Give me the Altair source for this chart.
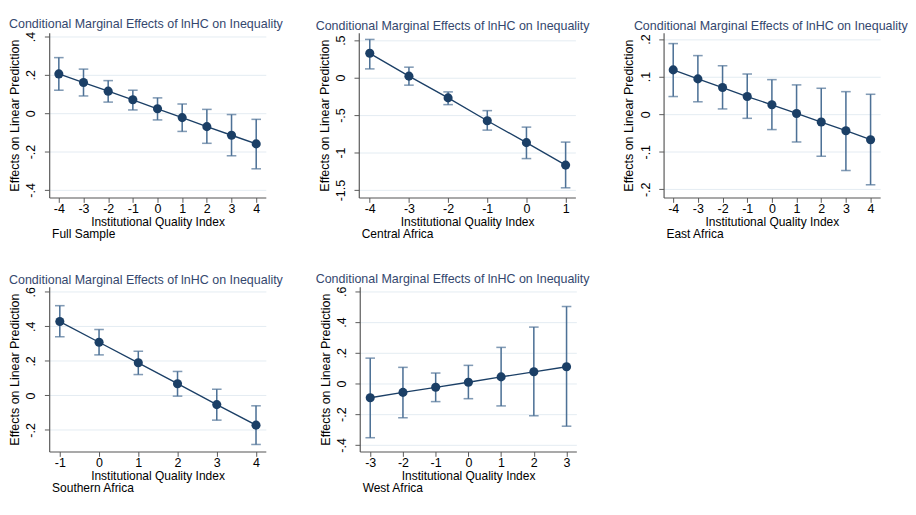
import altair as alt
import pandas as pd

FONT = "Liberation Sans"
TITLE = "Conditional Marginal Effects of lnHC on Inequality"
XTITLE = "Institutional Quality Index"
YTITLE = "Effects on Linear Prediction"

# ---- data ----
full_x = [-4, -3, -2, -1, 0, 1, 2, 3, 4]
full_est = [0.205, 0.160, 0.115, 0.070, 0.023, -0.023, -0.070, -0.115, -0.160]
full_lo = [0.120, 0.090, 0.058, 0.017, -0.035, -0.095, -0.157, -0.222, -0.290]
full_hi = [0.290, 0.230, 0.170, 0.120, 0.080, 0.048, 0.020, -0.007, -0.032]

cen_x = [-4, -3, -2, -1, 0, 1]
cen_est = [0.325, 0.020, -0.270, -0.575, -0.867, -1.167]
cen_lo = [0.117, -0.100, -0.360, -0.700, -1.080, -1.470]
cen_hi = [0.510, 0.140, -0.190, -0.440, -0.660, -0.860]

east_x = [-4, -3, -2, -1, 0, 1, 2, 3, 4]
east_est = [0.118, 0.094, 0.071, 0.047, 0.025, 0.002, -0.021, -0.044, -0.068]
east_lo = [0.047, 0.033, 0.014, -0.011, -0.041, -0.074, -0.112, -0.150, -0.188]
east_hi = [0.188, 0.156, 0.129, 0.107, 0.092, 0.078, 0.069, 0.060, 0.053]

south_x = [-1, 0, 1, 2, 3, 4]
south_est = [0.428, 0.308, 0.189, 0.068, -0.053, -0.172]
south_lo = [0.340, 0.235, 0.121, -0.004, -0.143, -0.284]
south_hi = [0.520, 0.382, 0.256, 0.139, 0.036, -0.060]

west_x = [-3, -2, -1, 0, 1, 2, 3]
west_est = [-0.093, -0.058, -0.025, 0.008, 0.043, 0.076, 0.109]
west_lo = [-0.353, -0.223, -0.118, -0.099, -0.146, -0.210, -0.278]
west_hi = [0.165, 0.105, 0.068, 0.118, 0.235, 0.367, 0.501]

notes = ["Full Sample", "Central Africa", "East Africa", "Southern Africa", "West Africa"]
y_ticks = [
    [-0.4, -0.2, 0, 0.2, 0.4],
    [-1.5, -1, -0.5, 0, 0.5],
    [-0.2, -0.1, 0, 0.1, 0.2],
    [-0.2, 0, 0.2, 0.4, 0.6],
    [-0.4, -0.2, 0, 0.2, 0.4, 0.6],
]
y_domains = [[-0.44, 0.42], [-1.6, 0.6], [-0.222, 0.217], [-0.325, 0.63], [-0.443, 0.63]]
x_domains = [[-4.39, 4.39], [-4.28, 1.25], [-4.39, 4.39], [-1.27, 4.25], [-3.32, 3.30]]
title_dx = [0, -3, 11, 0, -4]

series = [
    (full_x, full_est, full_lo, full_hi),
    (cen_x, cen_est, cen_lo, cen_hi),
    (east_x, east_est, east_lo, east_hi),
    (south_x, south_est, south_lo, south_hi),
    (west_x, west_est, west_lo, west_hi),
]

# ---- style ----
W, H = 226, 172
LINE = "#1b3f66"
BAR = "#4d7196"
GRID = "#e3ebf1"
AXIS = "#555555"
TCOL = "#34476e"

Y_LABEL_EXPR = "(datum.value < 0 ? '-' : '') + replace(format(abs(datum.value), '~g'), '0.', '.')"
X_LABEL_EXPR = "(datum.value < 0 ? '-' : '') + format(abs(datum.value), 'd')"


def panel(i):
    xs, est, lo, hi = series[i]
    df = pd.DataFrame({"x": xs, "est": est, "lo": lo, "hi": hi})
    base = alt.Chart(df)
    xscale = alt.Scale(domain=x_domains[i], nice=False, zero=False)
    yscale = alt.Scale(domain=y_domains[i], nice=False, zero=False)
    xaxis = alt.Axis(values=xs, title=XTITLE, grid=False, labelFontSize=13,
                     labelExpr=X_LABEL_EXPR,
                     titleFontSize=12.5, labelPadding=1, titlePadding=0,
                     tickSize=5, domainColor=AXIS, tickColor=AXIS,
                     labelColor="#000000", titleColor="#000000", titleFontWeight="normal",
                     labelFont=FONT, titleFont=FONT, domainWidth=1.2, labelFlush=False)
    yaxis = alt.Axis(values=y_ticks[i], title=YTITLE, grid=True, gridColor=GRID, gridWidth=1,
                     labelExpr=Y_LABEL_EXPR, labelAngle=270, labelAlign="center",
                     labelBaseline="bottom", labelFontSize=13, titleFontSize=13,
                     labelPadding=7, titlePadding=4, tickSize=5, domainColor=AXIS,
                     tickColor=AXIS, labelColor="#000000", titleColor="#000000",
                     titleFontWeight="normal", labelFont=FONT, titleFont=FONT,
                     domainWidth=1.2, labelFlush=False)
    X = alt.X("x:Q", scale=xscale, axis=xaxis)
    rules = base.mark_rule(color=BAR, strokeWidth=1.6).encode(
        x=X, y=alt.Y("lo:Q", scale=yscale, axis=yaxis), y2="hi:Q")
    cap_lo = base.mark_tick(color=BAR, orient="horizontal", size=10, thickness=1.6).encode(
        x=X, y=alt.Y("lo:Q", scale=yscale, axis=yaxis))
    cap_hi = base.mark_tick(color=BAR, orient="horizontal", size=10, thickness=1.6).encode(
        x=X, y=alt.Y("hi:Q", scale=yscale, axis=yaxis))
    line = base.mark_line(color=LINE, strokeWidth=1.4).encode(
        x=X, y=alt.Y("est:Q", scale=yscale, axis=yaxis))
    pts = base.mark_point(color=LINE, filled=True, opacity=1, size=90).encode(
        x=X, y=alt.Y("est:Q", scale=yscale, axis=yaxis))
    note = alt.Chart(pd.DataFrame({"note": [notes[i]]})).mark_text(
        align="left", baseline="middle", fontSize=12.5, font=FONT, color="#000000"
    ).encode(x=alt.value(3), y=alt.value(H + 38), text="note:N")
    return alt.layer(rules, cap_lo, cap_hi, line, pts, note).properties(
        width=W, height=H,
        title=alt.TitleParams(TITLE, anchor="start", frame="bounds", fontSize=13,
                              font=FONT, fontWeight="normal", color=TCOL, offset=0,
                              dx=title_dx[i]),
    )


top = alt.hconcat(panel(0), panel(1), panel(2), spacing=34)
bottom = alt.hconcat(panel(3), panel(4), spacing=34)
chart = alt.vconcat(top, bottom, spacing=34).properties(
    padding=0, background="#ffffff"
).configure_view(stroke=None)

chart.save("out.html", embed_options={"renderer": "svg", "actions": False})
